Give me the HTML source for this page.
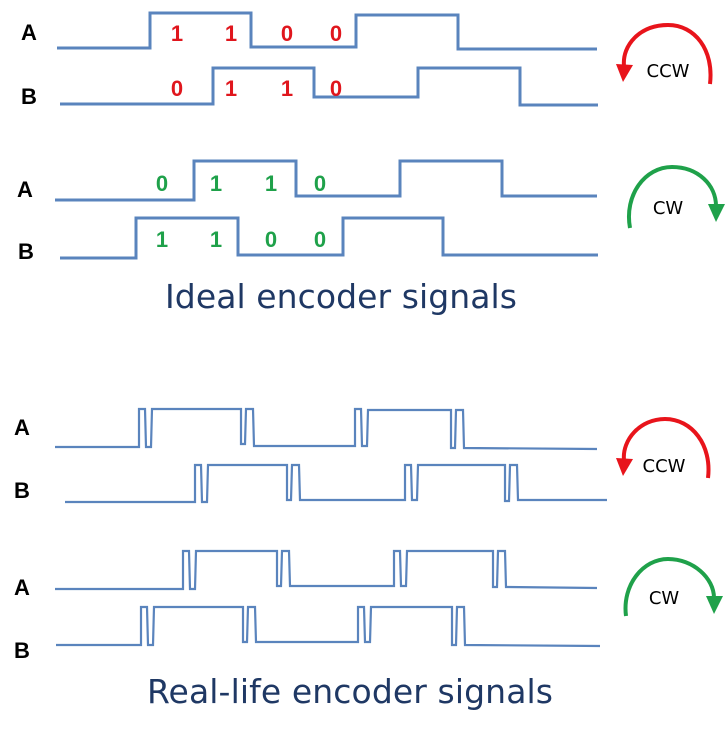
<!DOCTYPE html>
<html><head><meta charset="utf-8"><style>
html,body{margin:0;padding:0;background:#fff;}
svg{display:block}
.l{font-family:"Liberation Sans",sans-serif;font-weight:bold;font-size:22px;fill:#000}
.n{font-family:"Liberation Sans",sans-serif;font-weight:bold;font-size:22px}
.t{font-family:"DejaVu Sans","Liberation Sans",sans-serif;font-size:33px;fill:#1f3864}
.d{font-family:"DejaVu Sans","Liberation Sans",sans-serif;font-size:18px;fill:#000}
</style></head><body>
<svg width="728" height="745" viewBox="0 0 728 745" xmlns="http://www.w3.org/2000/svg">
<g fill="none" stroke="#5a84bd" stroke-width="3" stroke-linejoin="miter">
<polyline points="57,48 150,48 150,13 251,13 251,47 356,47 356,15 458,15 458,49 597,49"/>
<polyline points="60,104 213,104 213,68 314,68 314,97 418,97 418,68 520,68 520,105 598,105"/>
<polyline points="55,200 194,200 194,161 296,161 296,196 400,196 400,161 502,161 502,196 597,196"/>
<polyline points="60,258 136,258 136,218 238,218 238,255 343,255 343,218 443,218 443,255 598,255"/>
</g>
<g fill="none" stroke="#5a84bd" stroke-width="2.2">
<polyline points="55,447 139,447 139,409 145,409 146,447 151,447 152,409 241,409 241,444 245,444 246,409 253,409 254,446 355,446 355,409 361,409 362,446 367,446 368,410 451,410 451,448 455,448 456,410 463,410 464,448 597,449"/>
<polyline points="65,502 195,502 195,465 201,465 202,502 207,502 208,465 287,465 287,500 291,500 292,465 299,465 300,500 405,500 405,465 411,465 412,500 417,500 418,465 505,465 505,501 509,501 510,465 517,465 518,500 607,500"/>
<polyline points="55,589 183,589 183,551 189,551 190,589 195,589 196,551 277,551 277,586 281,586 282,551 289,551 290,586 394,586 394,551 400,551 401,586 406,586 407,551 493,551 493,587 497,587 498,551 505,551 506,587 597,588"/>
<polyline points="56,645 141,645 141,607 147,607 148,645 153,645 154,607 243,607 243,642 247,642 248,607 255,607 256,642 358,642 358,607 364,607 365,642 370,642 371,607 452,607 452,645 456,645 457,607 464,607 465,645 600,646"/>
</g>
<text class="l" x="21" y="40">A</text><text class="l" x="21" y="104">B</text>
<text class="l" x="17" y="197">A</text><text class="l" x="18" y="259">B</text>
<text class="l" x="14" y="435">A</text><text class="l" x="14" y="498">B</text>
<text class="l" x="14" y="595">A</text><text class="l" x="14" y="658">B</text>
<g class="n" fill="#e0161d" text-anchor="middle">
<text x="177" y="41">1</text><text x="231" y="41">1</text><text x="287" y="41">0</text><text x="336" y="41">0</text>
<text x="177" y="96">0</text><text x="231" y="96">1</text><text x="287" y="96">1</text><text x="336" y="96">0</text>
</g>
<g class="n" fill="#1fa14a" text-anchor="middle">
<text x="162" y="191">0</text><text x="216" y="191">1</text><text x="271" y="191">1</text><text x="320" y="191">0</text>
<text x="162" y="247">1</text><text x="216" y="247">1</text><text x="271" y="247">0</text><text x="320" y="247">0</text>
</g>
<g fill="none" stroke-width="4">
<path d="M710,84 C714,50 695,25 668,25 C640,25 622,45 624,66" stroke="#e8141b"/>
<path d="M630,228 C624,195 645,167 672,167 C698,167 716,185 716,206" stroke="#1fa14a"/>
<path d="M708,478 C712,445 692,419 665,419 C640,419 622,440 624,460" stroke="#e8141b"/>
<path d="M626,616 C622,585 643,559 668,559 C693,559 714,578 714,598" stroke="#1fa14a"/>
</g>
<polygon points="616,64 633,65 623,82" fill="#e8141b"/>
<polygon points="708,204 725,204 716,222" fill="#1fa14a"/>
<polygon points="616,458 633,459 623,476" fill="#e8141b"/>
<polygon points="706,596 723,596 714,614" fill="#1fa14a"/>
<text class="d" x="668" y="77" text-anchor="middle">CCW</text>
<text class="d" x="668" y="214" text-anchor="middle">CW</text>
<text class="d" x="664" y="472" text-anchor="middle">CCW</text>
<text class="d" x="664" y="604" text-anchor="middle">CW</text>
<text class="t" x="341" y="308" text-anchor="middle" textLength="352">Ideal encoder signals</text>
<text class="t" x="350" y="703" text-anchor="middle" textLength="406">Real-life encoder signals</text>
</svg>
</body></html>
